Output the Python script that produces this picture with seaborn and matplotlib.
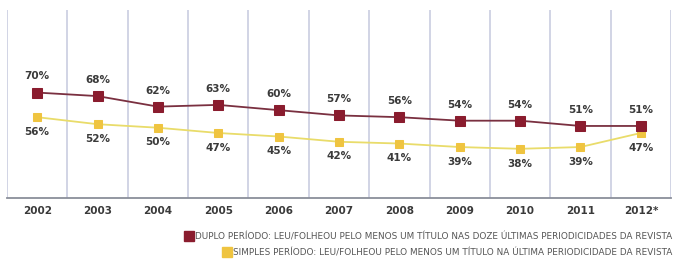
import numpy as np
import pandas as pd
import seaborn as sns
import matplotlib.pyplot as plt
from matplotlib.lines import Line2D

# data
years = ['2002', '2003', '2004', '2005', '2006', '2007', '2008', '2009', '2010', '2011', '2012*']
duplo = [70, 68, 62, 63, 60, 57, 56, 54, 54, 51, 51]
simples = [56, 52, 50, 47, 45, 42, 41, 39, 38, 39, 47]
series_names = ['Duplo período', 'Simples período']
legend_texts = [
    ('DUPLO PERÍODO:', 'LEU/FOLHEOU PELO MENOS UM TÍTULO NAS DOZE ÚLTIMAS PERIODICIDADES DA REVISTA'),
    ('SIMPLES PERÍODO:', 'LEU/FOLHEOU PELO MENOS UM TÍTULO NA ÚLTIMA PERIODICIDADE DA REVISTA'),
]

red = '#8a1c2e'
yellow_line = '#e9dc6a'
yellow_mark = '#efc440'
text_col = '#3a3a3a'
grid_col = '#c9cde0'

df = pd.DataFrame({
    'pos': list(range(len(years))) * 2,
    'value': duplo + simples,
    'serie': [series_names[0]] * len(years) + [series_names[1]] * len(years),
})

sns.set_style('white')
fig = plt.figure(figsize=(6.75, 2.62), dpi=100)
ax = fig.add_axes([7 / 675, 1 - 198 / 262, 664 / 675, 188 / 262])

# yellow first so the red sits on top at 2012
sub = df[df.serie == series_names[1]]
sns.lineplot(data=sub, x='pos', y='value', ax=ax, color=yellow_line, lw=1.3,
             marker='s', markersize=6, markerfacecolor=yellow_mark,
             markeredgecolor=yellow_mark, legend=False)
sub = df[df.serie == series_names[0]]
sns.lineplot(data=sub, x='pos', y='value', ax=ax, color='#7a3040', lw=1.3,
             marker='s', markersize=6.5, markerfacecolor=red,
             markeredgecolor=red, legend=False)

# value labels
for i, v in enumerate(duplo):
    ax.annotate(f'{v}%', (i, v), xytext=(0, 8), textcoords='offset points',
                ha='center', va='bottom', fontsize=7.5, fontweight='bold', color=text_col)
for i, v in enumerate(simples):
    ax.annotate(f'{v}%', (i, v), xytext=(0, -7), textcoords='offset points',
                ha='center', va='top', fontsize=7.5, fontweight='bold', color=text_col)

ax.set_xlim(-0.5, len(years) - 0.5)
ax.set_ylim(10, 117)
ax.set_xticks(range(len(years)))
ax.set_xticklabels(years, fontsize=7.5, fontweight='bold', color=text_col)
ax.tick_params(axis='x', length=0, pad=6)
ax.set_yticks([])
ax.set_xlabel('')
ax.set_ylabel('')

# vertical separators between years
for x in np.arange(-0.5, len(years), 1.0):
    ax.axvline(x, color=grid_col, lw=1.2, zorder=0)
for s in ['top', 'right', 'left']:
    ax.spines[s].set_visible(False)
ax.spines['bottom'].set_color('#8a8f9a')
ax.spines['bottom'].set_linewidth(1.3)

# legend rows, right aligned
cols = [red, yellow_mark]
ys = [1 - 237 / 262, 1 - 253 / 262]
for (head, body), c, y in zip(legend_texts, cols, ys):
    h = Line2D([], [], marker='s', ls='', markersize=7, markerfacecolor=c, markeredgecolor=c)
    leg = fig.legend(handles=[h], labels=[head + ' ' + body], loc='center right',
                     bbox_to_anchor=(0.996, y), frameon=False, fontsize=6.4,
                     handlelength=0.6, handletextpad=0.4, borderpad=0, borderaxespad=0)
    for t in leg.get_texts():
        t.set_color('#555555')

fig.savefig('out.png', dpi=100)
